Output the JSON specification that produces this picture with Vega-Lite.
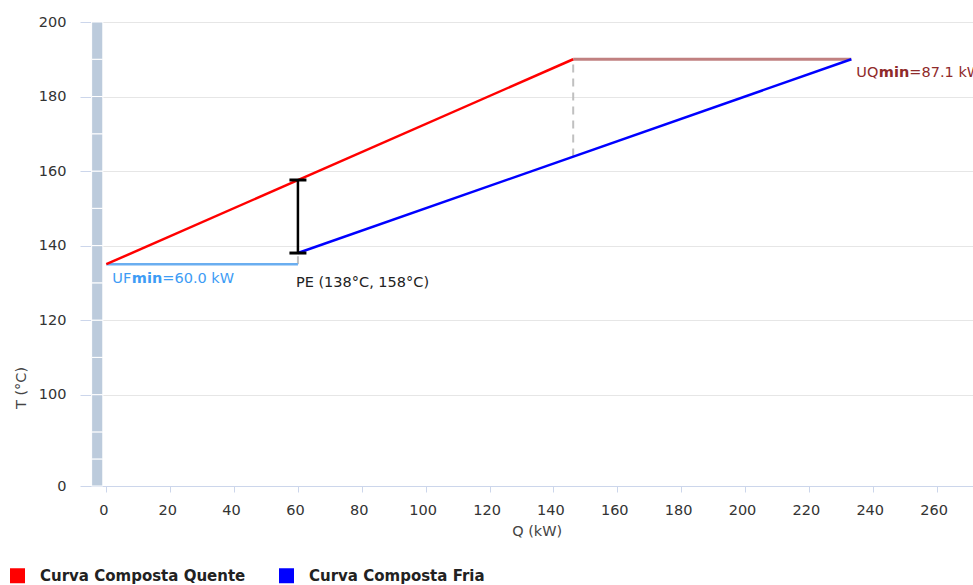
{
  "$schema": "https://vega.github.io/schema/vega-lite/v6.json",
  "autosize": {"type": "none"},
  "padding": {"left": 91, "top": 22, "right": 0, "bottom": 99},
  "width": 882,
  "height": 464,
  "background": "white",
  "config": {"view": {"stroke": null}, "font": "DejaVu Sans"},
  "layer": [
    {
      "data": {"values": [
        {"q0": -4.6, "q1": -1.1, "t0": 0, "t1": 45},
        {"q0": -4.6, "q1": -1.1, "t0": 45, "t1": 90},
        {"q0": -4.6, "q1": -1.1, "t0": 90, "t1": 100},
        {"q0": -4.6, "q1": -1.1, "t0": 100, "t1": 110},
        {"q0": -4.6, "q1": -1.1, "t0": 110, "t1": 120},
        {"q0": -4.6, "q1": -1.1, "t0": 120, "t1": 130},
        {"q0": -4.6, "q1": -1.1, "t0": 130, "t1": 140},
        {"q0": -4.6, "q1": -1.1, "t0": 140, "t1": 150},
        {"q0": -4.6, "q1": -1.1, "t0": 150, "t1": 160},
        {"q0": -4.6, "q1": -1.1, "t0": 160, "t1": 170},
        {"q0": -4.6, "q1": -1.1, "t0": 170, "t1": 180},
        {"q0": -4.6, "q1": -1.1, "t0": 180, "t1": 190},
        {"q0": -4.6, "q1": -1.1, "t0": 190, "t1": 200}
      ]},
      "mark": {"type": "rect", "fill": "#bccbdc", "stroke": "white", "strokeWidth": 1},
      "encoding": {
        "x": {"field": "q0", "type": "quantitative",
          "scale": {"domain": [-4.8, 271.4], "nice": false, "zero": false},
          "axis": {"values": [0, 20, 40, 60, 80, 100, 120, 140, 160, 180, 200, 220, 240, 260],
            "grid": false, "domainColor": "#ccd6eb", "tickColor": "#ccd6eb", "tickSize": 6,
            "labelFont": "DejaVu Sans", "labelFontSize": 14.5, "labelColor": "#333",
            "labelBaseline": "alphabetic", "labelPadding": 22, "labelOffset": -3, "labelFlush": false,
            "title": "Q (kW)", "titleFont": "DejaVu Sans", "titleFontSize": 14.5, "titleFontWeight": "normal",
            "titleColor": "#444", "titleX": 445.7, "titleY": 45, "titleAlign": "center", "titleBaseline": "middle"}},
        "x2": {"field": "q1"},
        "y": {"field": "t0", "type": "quantitative",
          "scale": {"domain": [0, 90, 200], "range": [464, 409.9, 0], "nice": false, "zero": false},
          "axis": {"values": [0, 100, 120, 140, 160, 180, 200],
            "grid": true, "gridColor": "#e6e6e6", "domain": false, "tickColor": "#ccd6eb", "tickSize": 11,
            "labelFont": "DejaVu Sans", "labelFontSize": 14.5, "labelColor": "#333", "labelPadding": 14,
            "labelBaseline": "middle",
            "title": "T (°C)", "titleFont": "DejaVu Sans", "titleFontSize": 14.5, "titleFontWeight": "normal",
            "titleColor": "#444", "titleX": -70, "titleY": 365.5, "titleAngle": -90, "titleAlign": "center", "titleBaseline": "middle"}},
        "y2": {"field": "t1"}
      }
    },
    {
      "data": {"values": [{"q": 60, "ta": 135, "tb": 138}, {"q": 146.2, "ta": 163.9, "tb": 190}]},
      "mark": {"type": "rule", "color": "#c0c0c0", "strokeWidth": 2, "strokeDash": [8, 6]},
      "encoding": {
        "x": {"field": "q", "type": "quantitative"},
        "y": {"field": "ta", "type": "quantitative"},
        "y2": {"field": "tb"}
      }
    },
    {
      "data": {"values": [{"q": 0, "t": 135}, {"q": 60, "t": 135}]},
      "mark": {"type": "line", "color": "#6aaef0", "strokeWidth": 2.5},
      "encoding": {
        "x": {"field": "q", "type": "quantitative"},
        "y": {"field": "t", "type": "quantitative"}
      }
    },
    {
      "data": {"values": [{"q": 146.2, "t": 190}, {"q": 233.3, "t": 190}]},
      "mark": {"type": "line", "color": "#c08080", "strokeWidth": 3},
      "encoding": {
        "x": {"field": "q", "type": "quantitative"},
        "y": {"field": "t", "type": "quantitative"}
      }
    },
    {
      "data": {"values": [
        {"series": "Curva Composta Quente", "q": 0, "t": 135},
        {"series": "Curva Composta Quente", "q": 146.2, "t": 190},
        {"series": "Curva Composta Fria", "q": 60, "t": 138},
        {"series": "Curva Composta Fria", "q": 233.3, "t": 190}
      ]},
      "mark": {"type": "line", "strokeWidth": 2.5},
      "encoding": {
        "x": {"field": "q", "type": "quantitative"},
        "y": {"field": "t", "type": "quantitative"},
        "color": {"field": "series", "type": "nominal",
          "scale": {"domain": ["Curva Composta Quente", "Curva Composta Fria"], "range": ["#ff0000", "#0000ff"]},
          "legend": {"orient": "none", "legendX": -81, "legendY": 546, "direction": "horizontal", "title": null,
            "symbolType": "square", "symbolSize": 225, "symbolStrokeWidth": 0,
            "labelFont": "DejaVu Sans", "labelFontSize": 15, "labelFontWeight": "bold", "labelColor": "#222",
            "labelOffset": 15, "columnPadding": 33, "labelLimit": 400,
            "encode": {"symbols": {"update": {"fill": {"scale": "color", "field": "value"}, "stroke": {"value": "transparent"}, "opacity": {"value": 1}}}}}
        }
      }
    },
    {
      "data": {"values": [{"q": 60, "lo": 138, "hi": 157.6}]},
      "layer": [
        {"mark": {"type": "rule", "color": "black", "strokeWidth": 2.5},
         "encoding": {"x": {"field": "q", "type": "quantitative"}, "y": {"field": "lo", "type": "quantitative"}, "y2": {"field": "hi"}}},
        {"mark": {"type": "tick", "orient": "horizontal", "color": "black", "thickness": 3, "size": 17, "opacity": 1},
         "encoding": {"x": {"field": "q", "type": "quantitative"}, "y": {"field": "lo", "type": "quantitative"}}},
        {"mark": {"type": "tick", "orient": "horizontal", "color": "black", "thickness": 3, "size": 17, "opacity": 1},
         "encoding": {"x": {"field": "q", "type": "quantitative"}, "y": {"field": "hi", "type": "quantitative"}}}
      ]
    },
    {
      "data": {"values": [{"q": 0, "t": 135, "a": "UF", "b": "min", "c": "=60.0 kW"}]},
      "layer": [
        {"mark": {"type": "text", "align": "left", "baseline": "middle", "dx": 6, "dy": 15, "fontSize": 14.5, "color": "#3d9cf5", "font": "DejaVu Sans"},
         "encoding": {"x": {"field": "q", "type": "quantitative"}, "y": {"field": "t", "type": "quantitative"}, "text": {"field": "a"}}},
        {"mark": {"type": "text", "align": "left", "baseline": "middle", "dx": 25.5, "dy": 15, "fontSize": 14.5, "fontWeight": "bold", "color": "#3d9cf5", "font": "DejaVu Sans"},
         "encoding": {"x": {"field": "q", "type": "quantitative"}, "y": {"field": "t", "type": "quantitative"}, "text": {"field": "b"}}},
        {"mark": {"type": "text", "align": "left", "baseline": "middle", "dx": 56, "dy": 15, "fontSize": 14.5, "color": "#3d9cf5", "font": "DejaVu Sans"},
         "encoding": {"x": {"field": "q", "type": "quantitative"}, "y": {"field": "t", "type": "quantitative"}, "text": {"field": "c"}}}
      ]
    },
    {
      "data": {"values": [{"q": 233.3, "t": 190, "a": "UQ", "b": "min", "c": "=87.1 kW"}]},
      "layer": [
        {"mark": {"type": "text", "align": "left", "baseline": "middle", "dx": 5, "dy": 14, "fontSize": 14.5, "color": "#8f2a2a", "font": "DejaVu Sans"},
         "encoding": {"x": {"field": "q", "type": "quantitative"}, "y": {"field": "t", "type": "quantitative"}, "text": {"field": "a"}}},
        {"mark": {"type": "text", "align": "left", "baseline": "middle", "dx": 27.5, "dy": 14, "fontSize": 14.5, "fontWeight": "bold", "color": "#8f2a2a", "font": "DejaVu Sans"},
         "encoding": {"x": {"field": "q", "type": "quantitative"}, "y": {"field": "t", "type": "quantitative"}, "text": {"field": "b"}}},
        {"mark": {"type": "text", "align": "left", "baseline": "middle", "dx": 58, "dy": 14, "fontSize": 14.5, "color": "#8f2a2a", "font": "DejaVu Sans"},
         "encoding": {"x": {"field": "q", "type": "quantitative"}, "y": {"field": "t", "type": "quantitative"}, "text": {"field": "c"}}}
      ]
    },
    {
      "data": {"values": [{"q": 60, "t": 138, "label": "PE (138°C, 158°C)"}]},
      "mark": {"type": "text", "align": "left", "baseline": "middle", "dx": -2, "dy": 30, "fontSize": 14.5, "color": "#222", "font": "DejaVu Sans"},
      "encoding": {"x": {"field": "q", "type": "quantitative"}, "y": {"field": "t", "type": "quantitative"}, "text": {"field": "label"}}
    }
  ]
}
